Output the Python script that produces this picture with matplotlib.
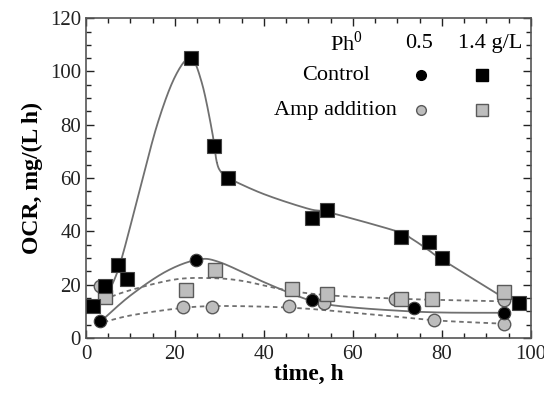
import numpy as np
import matplotlib
matplotlib.use("Agg")
import matplotlib.pyplot as plt
from matplotlib.ticker import MultipleLocator

plt.rcParams['font.family'] = ['Liberation Serif', 'DejaVu Serif']
plt.rcParams['mathtext.fontset'] = 'custom'
plt.rcParams['mathtext.rm'] = 'Liberation Serif'

# measured points
ctrl_sq_t = [1.6, 4.2, 7.2, 9.2, 23.6, 28.7, 31.9, 50.8, 54.2, 70.9, 77.1, 80.0, 97.3]
ctrl_sq_y = [12.2, 19.4, 27.3, 22.2, 105.0, 72.0, 60.0, 45.0, 48.0, 38.0, 36.2, 30.0, 13.0]
ctrl_ci_t = [3.1, 24.8, 50.9, 73.8, 93.9]
ctrl_ci_y = [6.6, 29.4, 14.3, 11.2, 9.3]
amp_ci_t = [3.1, 21.8, 28.3, 45.6, 53.6, 69.5, 78.2, 93.9, 93.9]
amp_ci_y = [19.7, 11.6, 11.6, 11.9, 13.3, 14.7, 6.9, 5.3, 14.3]
amp_sq_t = [4.2, 22.5, 28.9, 46.4, 54.2, 70.9, 77.7, 93.9]
amp_sq_y = [15.5, 18.1, 25.5, 18.3, 16.5, 14.7, 14.5, 17.4]

# knots of the fitted curves
fit_sq_t = [4.5, 7.5, 12, 16, 20, 23.5, 26, 28.3, 29.4, 30.5, 32, 40, 50, 55, 70, 73, 77, 80, 94]
fit_sq_y = [15.5, 27, 55, 80, 98, 105, 96, 78, 66, 62, 60, 54, 48.5, 47, 40, 37.5, 33, 29.5, 15]
fit_ci_t = [3.5, 10, 18, 25, 30, 40, 48, 53, 60, 70, 80, 94]
fit_ci_y = [6.5, 16, 25, 29.4, 28.5, 21, 15.5, 13, 11.5, 10.3, 9.6, 9.5]
fit_asq_t = [4, 10, 20, 28, 35, 45, 55, 70, 80, 94]
fit_asq_y = [14.5, 18, 22, 22.5, 21.5, 18, 16, 14.8, 14.3, 13.8]
fit_aci_t = [4, 10, 20, 28, 40, 50, 60, 70, 80, 94]
fit_aci_y = [6, 8.5, 11, 12, 11.8, 11, 9.5, 8, 6.5, 5.4]


def smooth(xs, ys, n=20):
    # Catmull-Rom through the knots
    p = np.column_stack([xs, ys]).astype(float)
    p = np.vstack([p[0], p, p[-1]])
    out = []
    for i in range(1, len(p) - 2):
        p0, p1, p2, p3 = p[i - 1], p[i], p[i + 1], p[i + 2]
        s = np.linspace(0, 1, n)[:, None]
        c = 0.5 * ((2 * p1) + (-p0 + p2) * s + (2 * p0 - 5 * p1 + 4 * p2 - p3) * s**2
                   + (-p0 + 3 * p1 - 3 * p2 + p3) * s**3)
        out.append(c)
    c = np.vstack(out)
    return c[:, 0], c[:, 1]


fig = plt.figure(figsize=(5.44, 3.95), dpi=100)
ax = fig.add_axes([0.158, 0.144, 0.818, 0.81])

line_c = '#707070'
ax.plot(*smooth(fit_sq_t, fit_sq_y), color=line_c, lw=1.3, zorder=2)
ax.plot(*smooth(fit_ci_t, fit_ci_y), color=line_c, lw=1.3, zorder=2)
ax.plot(*smooth(fit_asq_t, fit_asq_y), color=line_c, lw=1.3, ls=(0, (2.5, 2)), zorder=2)
ax.plot(*smooth(fit_aci_t, fit_aci_y), color=line_c, lw=1.3, ls=(0, (2.5, 2)), zorder=2)

grey = '#bdbdbd'
edge = '#5a5a5a'
ax.plot(amp_ci_t, amp_ci_y, 'o', ms=9, mfc=grey, mec=edge, mew=1, ls='none', zorder=3)
ax.plot(amp_sq_t, amp_sq_y, 's', ms=10, mfc=grey, mec=edge, mew=1, ls='none', zorder=3)
ax.plot(ctrl_ci_t, ctrl_ci_y, 'o', ms=9, mfc='black', mec='#444444', mew=0.8, ls='none', zorder=4)
ax.plot(ctrl_sq_t, ctrl_sq_y, 's', ms=10, mfc='black', mec='#444444', mew=0.8, ls='none', zorder=4)

ax.set_xlim(0, 100)
ax.set_ylim(0, 120)
ax.xaxis.set_major_locator(MultipleLocator(20))
ax.xaxis.set_minor_locator(MultipleLocator(5))
ax.yaxis.set_major_locator(MultipleLocator(20))
ax.yaxis.set_minor_locator(MultipleLocator(5))
ax.tick_params(which='both', direction='in', top=True, right=True, labelsize=15, colors='#222222')
ax.tick_params(which='major', length=6, width=1)
ax.tick_params(which='minor', length=3.5, width=1)
ax.tick_params(axis='x', pad=5)
for s in ax.spines.values():
    s.set_color('#555555')
    s.set_linewidth(1.2)

ax.set_xlabel('time, h', fontsize=17, fontweight='bold', labelpad=0)
ax.set_ylabel('OCR, mg/(L h)', fontsize=17, fontweight='bold', labelpad=5)

# legend table
fs = 16
ax.text(58.6, 110.6, 'Ph$^{0}$', fontsize=fs, ha='center', va='center')
ax.text(74.8, 110.6, '0.5', fontsize=fs, ha='center', va='center')
ax.text(90.8, 110.6, '1.4 g/L', fontsize=fs, ha='center', va='center')
ax.text(63.8, 98.6, 'Control', fontsize=fs, ha='right', va='center')
ax.text(69.9, 85.5, 'Amp addition', fontsize=fs, ha='right', va='center')
ax.plot([75.4], [98.6], 'o', ms=7, mfc='black', mec='black', clip_on=False)
ax.plot([89.0], [98.6], 's', ms=8, mfc='black', mec='black', clip_on=False)
ax.plot([75.4], [85.5], 'o', ms=7, mfc=grey, mec=edge, mew=1, clip_on=False)
ax.plot([89.0], [85.5], 's', ms=8, mfc=grey, mec=edge, mew=1, clip_on=False)

fig.savefig('out.png', dpi=100)
